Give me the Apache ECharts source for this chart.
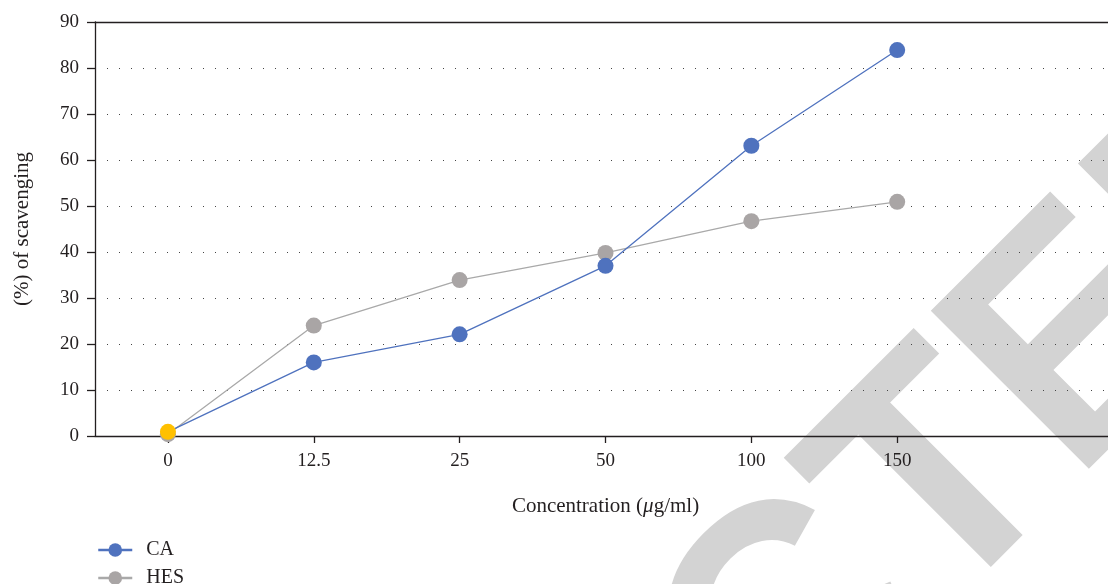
<!DOCTYPE html>
<html>
<head>
<meta charset="utf-8">
<script src="https://cdn.jsdelivr.net/npm/echarts@6/dist/echarts.min.js"></script>
<style>
html,body{margin:0;padding:0;background:#fff;}
#chart{width:1108px;height:584px;}
</style>
</head>
<body>
<div id="chart"></div>
<script>
const categories = ['0', '12.5', '25', '50', '100', '150', ''];
const caValues = [0.9, 16.0, 22.1, 37.0, 63.1, 83.9];
const hesValues = [0.4, 24.0, 33.9, 39.8, 46.7, 50.9];
const yTicks = { min: 0, max: 90, interval: 10 };

const SERIF = '"Liberation Serif", "DejaVu Serif", serif';
const INK = '#231f20';

const caData = caValues.map((v, i) => i === 0 ? { value: v, itemStyle: { color: '#FFC000' } } : v);

const legendCommon = {
  orient: 'vertical',
  left: 92,
  itemWidth: 34,
  itemHeight: 17,
  lineStyle: { width: 2.5 },
  textStyle: { fontFamily: SERIF, fontSize: 20, color: INK, padding: [0, 0, 0, 9] }
};

const chart = echarts.init(document.getElementById('chart'), null, { renderer: 'canvas' });
chart.setOption({
  animation: false,
  backgroundColor: '#ffffff',
  textStyle: { fontFamily: SERIF, color: INK },
  grid: { left: 95, top: 22, bottom: 148, width: 1021, containLabel: false, outerBoundsMode: 'none' },
  legend: [
    Object.assign({}, legendCommon, { top: 535, data: ['CA'] }),
    Object.assign({}, legendCommon, { top: 563, data: ['HES'] })
  ],
  graphic: [{
    type: 'text',
    silent: true,
    z: -10,
    x: 637,
    y: 794,
    rotation: Math.PI / 4,
    scaleX: 0.96,
    scaleY: 1,
    style: {
      text: 'RETRACTED',
      fontSize: 325,
      fontWeight: 'bold',
      fontFamily: '"Liberation Sans", Arial, sans-serif',
      fill: '#d3d3d3',
      align: 'center',
      verticalAlign: 'middle',
      textAlign: 'center',
      textVerticalAlign: 'middle'
    }
  }],
  xAxis: [{
    type: 'category',
    data: categories,
    boundaryGap: true,
    position: 'bottom',
    name: '{a|Concentration (}{i|μ}{a|g/ml)}',
    nameLocation: 'middle',
    nameGap: 60,
    nameTextStyle: {
      rich: {
        a: { fontFamily: SERIF, fontSize: 21, color: INK },
        i: { fontFamily: SERIF, fontSize: 21, color: INK, fontStyle: 'italic' }
      }
    },
    axisLine: { show: true, lineStyle: { color: INK, width: 1.3 } },
    axisTick: { show: true, alignWithLabel: true, length: 7, lineStyle: { color: INK, width: 1.3 },
      interval: (idx, val) => val !== '' },
    axisLabel: { fontFamily: SERIF, fontSize: 19, color: INK, margin: 16 },
    splitLine: { show: false }
  }, {
    type: 'category',
    data: categories,
    position: 'top',
    axisLine: { show: true, lineStyle: { color: INK, width: 1.3 } },
    axisTick: { show: false },
    axisLabel: { show: false },
    splitLine: { show: false }
  }],
  yAxis: {
    type: 'value',
    min: yTicks.min,
    max: yTicks.max,
    interval: yTicks.interval,
    axisLine: { show: true, lineStyle: { color: INK, width: 1.3 } },
    axisTick: { show: true, length: 8, lineStyle: { color: INK, width: 1.3 } },
    axisLabel: { fontFamily: SERIF, fontSize: 19, color: INK, margin: 16 },
    splitLine: { show: true, lineStyle: { color: '#444', width: 1, type: [1, 11] } },
    name: '(%) of scavenging',
    nameLocation: 'middle',
    nameGap: 62,
    nameRotate: 90,
    nameTextStyle: { fontFamily: SERIF, fontSize: 21, color: INK }
  },
  series: [{
    name: 'CA',
    type: 'line',
    data: caData,
    z: 4,
    symbol: 'circle',
    symbolSize: 16,
    color: '#4F72BE',
    itemStyle: { color: '#4F72BE' },
    lineStyle: { color: '#4F72BE', width: 1.3 }
  }, {
    name: 'HES',
    type: 'line',
    data: hesValues,
    z: 3,
    symbol: 'circle',
    symbolSize: 16,
    color: '#A9A5A5',
    itemStyle: { color: '#A9A5A5' },
    lineStyle: { color: '#A9A9A9', width: 1.3 }
  }]
});
</script>
</body>
</html>
